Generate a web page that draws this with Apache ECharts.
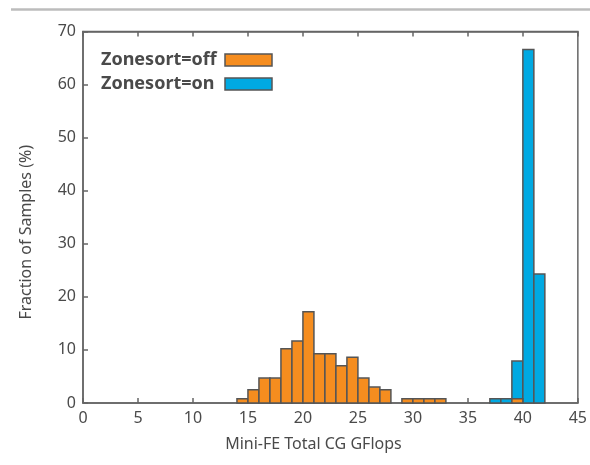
<!DOCTYPE html>
<html>
<head>
<meta charset="utf-8">
<script src="https://cdn.jsdelivr.net/npm/echarts@6/dist/echarts.min.js"></script>
<style>
  html, body { margin: 0; padding: 0; background: #fff; }
  #chart { width: 590px; height: 465px; }
</style>
</head>
<body>
<div id="chart"></div>
<script>
// Histogram bins: left edge of each 1-GFlop bin and the share of samples in it (%)
const offBins   = [14, 15, 16, 17, 18, 19, 20, 21, 22, 23, 24, 25, 26, 27, 29, 30, 31, 32, 39];
const offValues = [0.8, 2.5, 4.7, 4.7, 10.2, 11.7, 17.2, 9.3, 9.3, 7.0, 8.6, 4.7, 3.0, 2.5, 0.8, 0.8, 0.8, 0.8, 0.8];
const onBins    = [37, 38, 39, 40, 41];
const onValues  = [0.8, 0.8, 7.9, 66.6, 24.3];
const binWidth  = 1;

const seriesNames = ['Zonesort=off', 'Zonesort=on'];
const xTicks = { min: 0, max: 45, interval: 5 };
const yTicks = { min: 0, max: 70, interval: 10 };

const FONT = 'Noto Sans';
const TEXT = '#4a4a4a';
const AXIS = '#666';
const EDGE = '#555';

function binData(bins, values) {
  return bins.map((b, i) => [b, b + binWidth, values[i]]);
}

function renderBin(params, api) {
  const topLeft = api.coord([api.value(0), api.value(2)]);
  const bottomRight = api.coord([api.value(1), 0]);
  return {
    type: 'rect',
    shape: {
      x: topLeft[0],
      y: topLeft[1],
      width: bottomRight[0] - topLeft[0],
      height: bottomRight[1] - topLeft[1]
    },
    style: api.style()
  };
}

const chart = echarts.init(document.getElementById('chart'), null, { renderer: 'canvas' });

chart.setOption({
  backgroundColor: '#fff',
  animation: false,
  textStyle: { fontFamily: FONT },
  graphic: [{
    type: 'line',
    shape: { x1: 11, y1: 9.5, x2: 590, y2: 9.5 },
    style: { stroke: '#bcbcbc', lineWidth: 2.5 }
  }],
  grid: { left: 83, right: 9, top: 31.5, bottom: 62, show: true, borderColor: AXIS, borderWidth: 1.5 },
  legend: {
    data: seriesNames,
    orient: 'vertical',
    align: 'right',
    left: 101,
    top: 51,
    padding: 0,
    icon: 'rect',
    itemWidth: 47,
    itemHeight: 12,
    itemGap: 6,
    itemStyle: { borderColor: EDGE, borderWidth: 1.5 },
    formatter: '{label|{name}}',
    textStyle: {
      fontFamily: FONT, fontSize: 18, fontWeight: 'bold', color: TEXT, lineHeight: 17,
      rich: {
        label: {
          fontFamily: FONT, fontSize: 18, fontWeight: 'bold', color: TEXT,
          lineHeight: 17, width: 119, align: 'left'
        }
      }
    }
  },
  xAxis: [{
    type: 'value',
    min: xTicks.min, max: xTicks.max, interval: xTicks.interval,
    name: 'Mini-FE Total CG GFlops',
    nameLocation: 'middle',
    nameGap: 33,
    nameTextStyle: { fontFamily: FONT, fontSize: 16, color: TEXT, padding: [0, 34, 0, 0] },
    axisLine: { show: true, lineStyle: { color: AXIS, width: 1.5 } },
    axisTick: { show: true, inside: true, length: 5, lineStyle: { color: AXIS, width: 1.5 } },
    axisLabel: { fontFamily: FONT, fontSize: 16, color: TEXT, margin: 7 },
    splitLine: { show: false }
  }, {
    type: 'value',
    position: 'top',
    min: xTicks.min, max: xTicks.max, interval: xTicks.interval,
    axisLine: { show: true, lineStyle: { color: AXIS, width: 1.5 } },
    axisTick: { show: true, inside: true, length: 5, lineStyle: { color: AXIS, width: 1.5 } },
    axisLabel: { show: false },
    splitLine: { show: false }
  }],
  yAxis: {
    type: 'value',
    min: yTicks.min, max: yTicks.max, interval: yTicks.interval,
    name: 'Fraction of Samples (%)',
    nameLocation: 'middle',
    nameGap: 49,
    nameTextStyle: { fontFamily: FONT, fontSize: 16, color: TEXT, padding: [0, 30, 0, 0] },
    axisLine: { show: true, lineStyle: { color: AXIS, width: 1.5 } },
    axisTick: { show: true, inside: true, length: 5, lineStyle: { color: AXIS, width: 1.5 } },
    axisLabel: { fontFamily: FONT, fontSize: 16, color: TEXT, margin: 7 },
    splitLine: { show: false }
  },
  series: [{
    name: seriesNames[0],
    type: 'custom',
    renderItem: renderBin,
    encode: { x: [0, 1], y: 2 },
    data: binData(offBins, offValues),
    itemStyle: { color: '#F58D1F', borderColor: EDGE, borderWidth: 1.5 },
    z: 4
  }, {
    name: seriesNames[1],
    type: 'custom',
    renderItem: renderBin,
    encode: { x: [0, 1], y: 2 },
    data: binData(onBins, onValues),
    itemStyle: { color: '#00A9E2', borderColor: EDGE, borderWidth: 1.5 },
    z: 3
  }]
});
</script>
</body>
</html>
